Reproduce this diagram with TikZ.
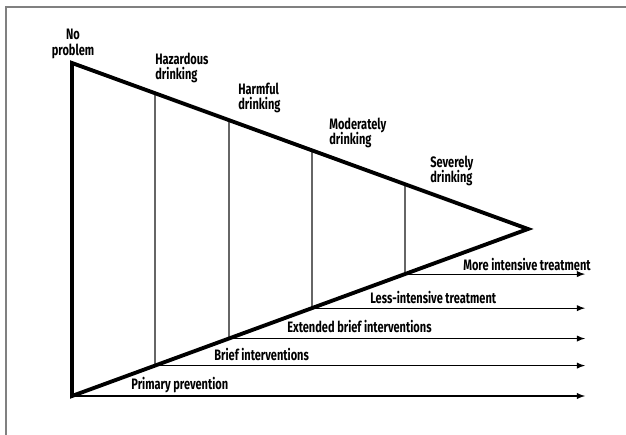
\documentclass[tikz,border=0pt]{standalone}
\usepackage{fontspec}
\setmainfont{Fira Sans}[FakeStretch=0.73]
\usetikzlibrary{calc}
\begin{document}
\begin{tikzpicture}[x=0.02cm, y=-0.02cm]
    \tikzset{>=latex}
    \tikzset{lbl/.style={anchor=west, inner sep=0pt, align=left, font=\fontsize{8.6}{8.9}\selectfont\bfseries}}
    \useasboundingbox (0,0) rectangle (626,435);
    \draw [gray, line width=0.8pt] (6,435) -- (6,7) -- (626,7);
    \coordinate (A) at (72,63);
    \coordinate (B) at (72,396);
    \coordinate (T) at (528,229);
    \coordinate (E) at (585,0);
    % stage borders on the two sides
    \coordinate (H1) at ($(A)!0.182!(T)$);
    \coordinate (H2) at ($(A)!0.344!(T)$);
    \coordinate (H3) at ($(A)!0.526!(T)$);
    \coordinate (H4) at ($(A)!0.730!(T)$);
    \coordinate (L1) at ($(B)!0.182!(T)$);
    \coordinate (L2) at ($(B)!0.344!(T)$);
    \coordinate (L3) at ($(B)!0.526!(T)$);
    \coordinate (L4) at ($(B)!0.730!(T)$);
    \draw [gray!80!black, line width=0.8pt] (H1) -- (L1) (H2) -- (L2) (H3) -- (L3) (H4) -- (L4);
    \draw [line width=2.2pt, line join=miter] (B) -- (A) -- (T) -- cycle;
    \draw [->, line width=0.6pt] (B) -- (B -| E);
    \draw [->, line width=0.6pt] (L1) -- (L1 -| E);
    \draw [->, line width=0.6pt] (L2) -- (L2 -| E);
    \draw [->, line width=0.6pt] (L3) -- (L3 -| E);
    \draw [->, line width=0.6pt] (L4) -- (L4 -| E);
    \node [lbl, anchor=center, align=center] (noprob) at (73,44) {No\\problem};
    \node [lbl] (hazard) at (155,68) {Hazardous\\drinking};
    \node [lbl] (harm) at (238,98) {Harmful\\drinking};
    \node [lbl] (moder) at (329,133) {Moderately\\drinking};
    \node [lbl] (sever) at (430,171) {Severely\\drinking};
    \node [lbl] (prim) at (131,385) {Primary prevention};
    \node [lbl] (brief) at (214,355) {Brief interventions};
    \node [lbl] (ext) at (287,327) {Extended brief interventions};
    \node [lbl] (less) at (370,298) {Less-intensive treatment};
    \node [lbl] (more) at (463,265) {More intensive treatment};
\end{tikzpicture}
\end{document}
